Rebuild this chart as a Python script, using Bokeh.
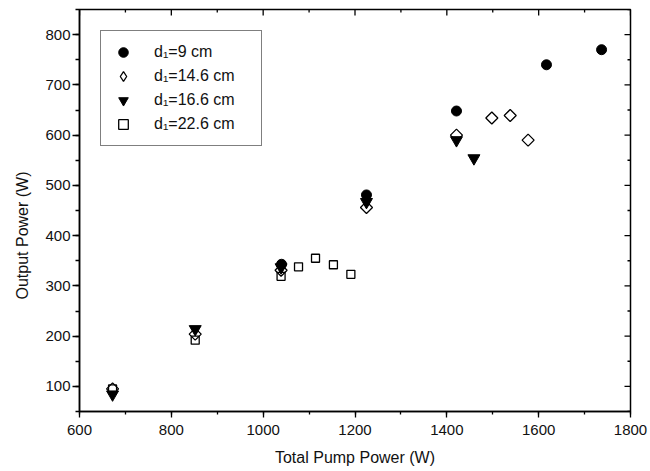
from bokeh.plotting import figure
from bokeh.models import Range1d, SingleIntervalTicker, Legend, LegendItem, Title
from bokeh.embed import file_html
from bokeh.resources import INLINE
import numpy as np

# ---- data ----
labels = ["d\u2081=9 cm", "d\u2081=14.6 cm", "d\u2081=16.6 cm", "d\u2081=22.6 cm"]

x_9 = [1040, 1225, 1421, 1617, 1737]
y_9 = [343, 481, 648, 740, 770]

x_146 = [672, 852, 1039, 1225, 1421, 1498, 1538, 1577]
y_146 = [95, 204, 331, 456, 600, 634, 639, 590]

x_166 = [672, 852, 1039, 1225, 1421, 1459]
y_166 = [84, 214, 337, 467, 590, 554]

x_226 = [672, 852, 1039, 1077, 1114, 1153, 1191]
y_226 = [95, 192, 319, 338, 355, 342, 323]

x_title = "Total Pump Power (W)"
y_title = "Output Power (W)"

X_MIN, X_MAX, X_STEP = 600, 1800, 200
Y_MIN, Y_MAX, Y_STEP = 50, 850, 100

FONT = "Liberation Sans"
TXT = "#111111"

p = figure(width=650, height=471,
           x_range=Range1d(X_MIN, X_MAX), y_range=Range1d(Y_MIN, Y_MAX),
           output_backend="svg", toolbar_location=None, title=None,
           min_border_left=79, min_border_right=20, min_border_top=9,
           min_border_bottom=60)

p.xgrid.visible = False
p.ygrid.visible = False
p.outline_line_color = "black"
p.outline_line_width = 1.5
p.background_fill_color = "white"
p.border_fill_color = "white"

xa = p.xaxis[0]
xa.ticker = SingleIntervalTicker(interval=X_STEP, num_minor_ticks=2)
xa.axis_label = x_title
ya = p.yaxis[0]
ya.ticker = SingleIntervalTicker(interval=Y_STEP, num_minor_ticks=2)

for ax in (xa, ya):
    ax.axis_line_color = "black"
    ax.axis_line_width = 1.5
    ax.major_tick_in = 0
    ax.minor_tick_in = 0
    ax.major_tick_line_color = "black"
    ax.minor_tick_line_color = "black"
    ax.major_tick_line_width = 1.3
    ax.minor_tick_line_width = 1.3
    ax.major_label_text_font = FONT
    ax.major_label_text_font_size = "15px"
    ax.major_label_text_color = TXT
    ax.axis_label_text_font = FONT
    ax.axis_label_text_font_size = "16px"
    ax.axis_label_text_font_style = "normal"
    ax.axis_label_text_color = TXT

xa.major_tick_out = 6
xa.minor_tick_out = 3
xa.major_label_standoff = 7
xa.axis_label_standoff = 11
ya.major_tick_out = 7
ya.minor_tick_out = 4
ya.major_label_standoff = 2

# y-axis title, placed a little below the frame centre as in the reference
p.add_layout(Title(text=y_title, align="left", offset=112, vertical_align="middle",
                   standoff=21, text_font=FONT, text_font_size="16px",
                   text_font_style="normal", text_color=TXT), "left")

# inward ticks on the top and right edges of the box
top_major = np.arange(X_MIN, X_MAX + 1, X_STEP)
top_minor = np.arange(X_MIN + X_STEP / 2, X_MAX, X_STEP)
right_major = np.arange(100, Y_MAX, Y_STEP)
right_minor = np.arange(Y_MIN, Y_MAX + 1, Y_STEP)
p.ray(x=top_major, y=Y_MAX, length=6, length_units="screen", angle=-np.pi / 2,
      line_color="black", line_width=1.3)
p.ray(x=top_minor, y=Y_MAX, length=3, length_units="screen", angle=-np.pi / 2,
      line_color="black", line_width=1.3)
p.ray(x=X_MAX, y=right_major, length=6, length_units="screen", angle=np.pi,
      line_color="black", line_width=1.3)
p.ray(x=X_MAX, y=right_minor, length=3, length_units="screen", angle=np.pi,
      line_color="black", line_width=1.3)

# data
r1 = p.scatter(x_9, y_9, marker="circle", size=10, fill_color="black",
               line_color="black")
r2 = p.scatter(x_146, y_146, marker="square", angle=np.pi / 4, size=8.5,
               fill_alpha=0, line_color="black", line_width=1.3)
r3 = p.scatter(x_166, y_166, marker="inverted_triangle", size=12,
               fill_color="black", line_color="black")
r4 = p.scatter(x_226, y_226, marker="square", size=8, fill_alpha=0,
               line_color="black", line_width=1.3)
# legend stand-in for the diamond (legend glyphs are never rotated); hidden on the plot
r2_leg = p.scatter(x_146, y_146, marker="diamond", size=12, fill_alpha=0,
                   line_color="black", line_width=1.3, visible=False)

legend = Legend(items=[LegendItem(label=labels[0], renderers=[r1]),
                       LegendItem(label=labels[1], renderers=[r2_leg]),
                       LegendItem(label=labels[2], renderers=[r3]),
                       LegendItem(label=labels[3], renderers=[r4])],
                location="top_left", margin=21, padding=9, spacing=0,
                glyph_height=24, glyph_width=26, label_standoff=18,
                label_height=20, label_width=98,
                label_text_font=FONT, label_text_font_size="16px",
                label_text_color=TXT,
                border_line_color="black", border_line_width=1.2,
                background_fill_color="white", background_fill_alpha=1)
p.add_layout(legend)

open("out.html", "w").write(file_html(p, INLINE))
